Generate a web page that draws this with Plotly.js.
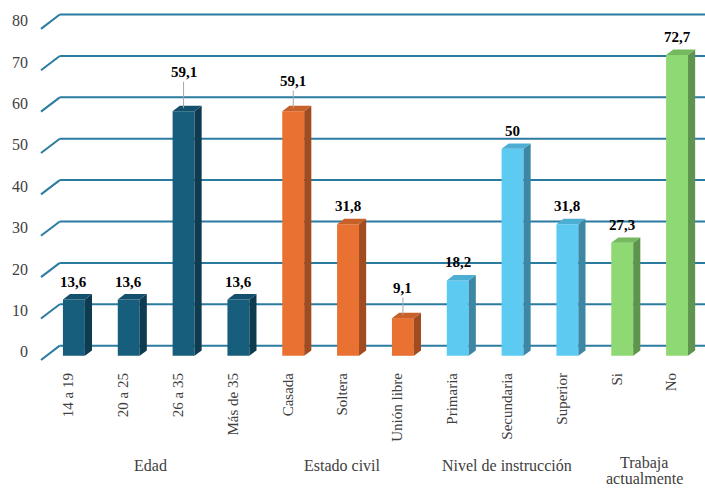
<!DOCTYPE html>
<html>
<head>
<meta charset="utf-8">
<script src="https://cdn.plot.ly/plotly-3.0.1.min.js"></script>
<style>html,body{margin:0;padding:0;background:#fff;}#chart{width:705px;height:488px;}</style>
</head>
<body>
<div id="chart"></div>
<script>
// ---- data ----
const categories = ['14 a 19','20 a 25','26 a 35','Más de 35','Casada','Soltera','Unión libre','Primaria','Secundaria','Superior','Si','No'];
const values = [13.6, 13.6, 59.1, 13.6, 59.1, 31.8, 9.1, 18.2, 50, 31.8, 27.3, 72.7];
const groupNames = ['Edad', 'Estado civil', 'Nivel de instrucción', 'Trabaja actualmente'];
const groupOfCategory = [0,0,0,0,1,1,1,2,2,2,3,3];
const yTickValues = [0,10,20,30,40,50,60,70,80];

// ---- style ----
const FONT = 'Liberation Serif';
const frontColors = ['#175E7D', '#E97132', '#5DCAF2', '#8ED973'];
const sideColors  = ['#0F3B50', '#A04C20', '#3C87A3', '#5E944E'];
const topColors   = ['#13506B', '#C8602A', '#4DAED3', '#74B95E'];
const gridColor = '#2B7BA1';
const barOffset = -0.1, barWidth = 0.4;   // axis units
const depthX = 0.13, depthY = 1.3;         // 3D depth in axis units
const backLift = 2.45, frontDrop = -1.0;   // grid plane offsets in value units
const labelLift = {2: 39, 4: 30, 6: 30};   // labels moved with leader lines (px)
const wrapGroups = {3: true};              // group titles wrapped onto two lines

const xs = categories.map((c, i) => i);
const traces = [];

// front faces
traces.push({
  type: 'bar', x: xs, y: values, width: barWidth, offset: barOffset,
  marker: {color: xs.map(i => frontColors[groupOfCategory[i]]), line: {width: 0}},
  hoverinfo: 'skip', showlegend: false
});

// side and top faces
xs.forEach(i => {
  const v = values[i], g = groupOfCategory[i];
  const l = i + barOffset, r = l + barWidth;
  traces.push({
    type: 'scatter', mode: 'lines', fill: 'toself', fillcolor: sideColors[g],
    line: {width: 0, color: sideColors[g]},
    x: [r, r + depthX, r + depthX, r, r], y: [0, depthY, v + depthY, v, 0],
    hoverinfo: 'skip', showlegend: false
  });
  traces.push({
    type: 'scatter', mode: 'lines', fill: 'toself', fillcolor: topColors[g],
    line: {width: 0, color: topColors[g]},
    x: [l, r, r + depthX, l + depthX, l], y: [v, v, v + depthY, v + depthY, v],
    hoverinfo: 'skip', showlegend: false
  });
});

// grid (back wall lines + diagonal floor edges)
const shapes = [];
yTickValues.forEach(t => {
  shapes.push({type: 'line', xref: 'paper', yref: 'y', x0: 0, x1: 0.0285, y0: t + frontDrop, y1: t + backLift,
               line: {color: gridColor, width: 2}, layer: 'below'});
  shapes.push({type: 'line', xref: 'paper', yref: 'y', x0: 0.0285, x1: 1.01, y0: t + backLift, y1: t + backLift,
               line: {color: gridColor, width: 2}, layer: 'below'});
});

// value labels
const annotations = xs.map(i => {
  const txt = String(values[i]).replace('.', ',');
  const base = {x: i + barOffset + barWidth / 2, y: values[i], xref: 'x', yref: 'y', text: '<b>' + txt + '</b>',
    font: {family: FONT, size: 15, color: '#000'}};
  if (labelLift[i]) {
    return Object.assign(base, {showarrow: true, arrowhead: 0, arrowwidth: 1, arrowcolor: '#A6A6A6',
      ax: 0, ay: -labelLift[i], standoff: 3});
  }
  return Object.assign(base, {showarrow: false, yanchor: 'middle', yshift: 18});
});

// group labels
groupNames.forEach((name, g) => {
  const members = xs.filter(i => groupOfCategory[i] === g);
  const center = (members[0] + members[members.length - 1]) / 2;
  const lines = wrapGroups[g] ? name.split(' ') : [name];
  lines.forEach((line, k) => {
    annotations.push({x: center, y: 0, xref: 'x', yref: 'paper', yanchor: 'middle',
      yshift: (lines.length > 1 ? -101 : -103) - k * 15, borderpad: 0,
      text: line, showarrow: false, font: {family: FONT, size: 16, color: '#404040'}});
  });
});

const layout = {
  width: 705, height: 488,
  margin: {l: 40.5, r: 5.7, t: 4, b: 126},
  paper_bgcolor: '#fff', plot_bgcolor: 'rgba(0,0,0,0)',
  showlegend: false,
  font: {family: FONT},
  xaxis: {range: [-0.5, 11.5], tickmode: 'array', tickvals: xs, ticktext: categories, tickangle: -90,
    showgrid: false, zeroline: false, showline: false, ticks: '', fixedrange: true,
    tickfont: {family: FONT, size: 15, color: '#404040'}, ticklabelstandoff: 7},
  yaxis: {range: [-1.5, 85], tickmode: 'array', tickvals: yTickValues, showgrid: false, zeroline: false,
    showline: false, ticks: '', fixedrange: true, ticklabelshift: -4, ticklabelstandoff: 12,
    tickfont: {family: FONT, size: 16, color: '#404040'}},
  shapes: shapes,
  annotations: annotations
};

Plotly.newPlot('chart', traces, layout, {displayModeBar: false, staticPlot: true});
</script>
</body>
</html>
